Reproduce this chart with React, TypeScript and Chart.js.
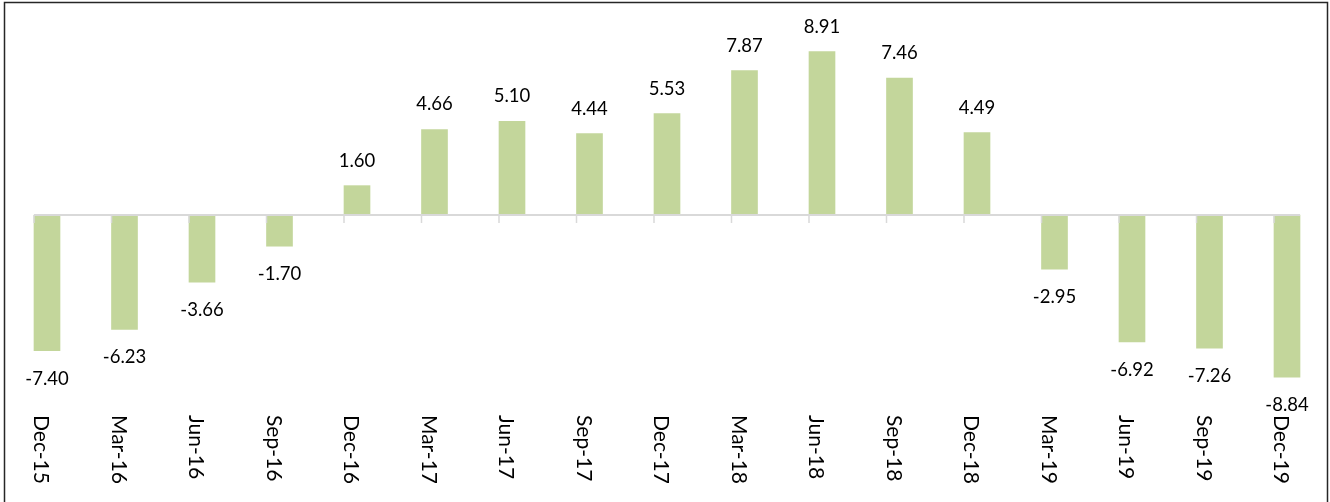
import React, { useEffect, useRef } from 'react';
import Chart from 'chart.js/auto';

const quarters = [
  'Dec-15', 'Mar-16', 'Jun-16', 'Sep-16', 'Dec-16', 'Mar-17', 'Jun-17', 'Sep-17', 'Dec-17',
  'Mar-18', 'Jun-18', 'Sep-18', 'Dec-18', 'Mar-19', 'Jun-19', 'Sep-19', 'Dec-19',
];
const values = [
  -7.40, -6.23, -3.66, -1.70, 1.60, 4.66, 5.10, 4.44, 5.53,
  7.87, 8.91, 7.46, 4.49, -2.95, -6.92, -7.26, -8.84,
];

const BAR_W = 26;
const FONT = 'Lato, "Open Sans", sans-serif';

const decorations = {
  id: 'decorations',
  afterDatasetsDraw(chart: any) {
    const { ctx, scales } = chart;
    const x = scales.x;
    const y = scales.y;
    const zeroY = y.getPixelForValue(0);
    const meta = chart.getDatasetMeta(0);

    ctx.save();
    // value labels
    ctx.fillStyle = '#000';
    ctx.font = `18.5px ${FONT}`;
    ctx.textAlign = 'center';
    ctx.textBaseline = 'alphabetic';
    meta.data.forEach((bar: any, i: number) => {
      const v = values[i];
      const ty = v >= 0 ? bar.y - 19 : bar.y + 34;
      ctx.fillText(v.toFixed(2), bar.x, ty);
    });

    // category axis line and ticks
    const left = x.getPixelForValue(0) - BAR_W / 2;
    const right = x.getPixelForValue(quarters.length - 1) + BAR_W / 2;
    ctx.strokeStyle = '#d9d9d9';
    ctx.lineWidth = 2;
    ctx.beginPath();
    ctx.moveTo(left, zeroY);
    ctx.lineTo(right, zeroY);
    ctx.stroke();
    ctx.lineWidth = 1.5;
    quarters.forEach((_, i) => {
      const tx = x.getPixelForValue(i) - BAR_W / 2;
      ctx.beginPath();
      ctx.moveTo(tx, zeroY);
      ctx.lineTo(tx, zeroY + 8);
      ctx.stroke();
    });

    // rotated category labels, reading top to bottom
    ctx.fillStyle = '#000';
    ctx.font = `21px ${FONT}`;
    ctx.textAlign = 'left';
    ctx.textBaseline = 'alphabetic';
    quarters.forEach((q, i) => {
      const cx = x.getPixelForValue(i);
      ctx.save();
      ctx.translate(cx, 415);
      ctx.rotate(Math.PI / 2);
      ctx.fillText(q, 0, 13);
      ctx.restore();
    });

    // outer frame
    ctx.strokeStyle = '#262626';
    ctx.lineWidth = 1.5;
    ctx.beginPath();
    ctx.moveTo(4.5, 504);
    ctx.lineTo(4.5, 2.5);
    ctx.lineTo(1327.5, 2.5);
    ctx.lineTo(1327.5, 504);
    ctx.stroke();
    ctx.restore();
  },
};

const App: React.FC = () => {
  const canvasRef = useRef<HTMLCanvasElement>(null);
  const chartRef = useRef<Chart | null>(null);

  useEffect(() => {
    document.body.style.margin = '0';
    if (!canvasRef.current) return;
    if (chartRef.current) chartRef.current.destroy();
    const ctx = canvasRef.current.getContext('2d');
    if (!ctx) return;

    chartRef.current = new Chart(ctx, {
      type: 'bar',
      data: {
        labels: quarters,
        datasets: [
          {
            data: values,
            backgroundColor: '#c3d69b',
            barThickness: BAR_W,
            clip: false,
          } as any,
        ],
      },
      options: {
        animation: false,
        responsive: false,
        devicePixelRatio: 1,
        layout: { padding: { left: 47, right: 43, top: 31.5, bottom: 103.5 } },
        plugins: {
          legend: { display: false },
          tooltip: { enabled: false },
        },
        scales: {
          x: { display: false, offset: false },
          y: { display: false, min: -10, max: 10 },
        },
      },
      plugins: [decorations],
    });

    return () => {
      if (chartRef.current) {
        chartRef.current.destroy();
        chartRef.current = null;
      }
    };
  }, []);

  return <canvas ref={canvasRef} width={1330} height={502} style={{ display: 'block' }}></canvas>;
};

export default App;
